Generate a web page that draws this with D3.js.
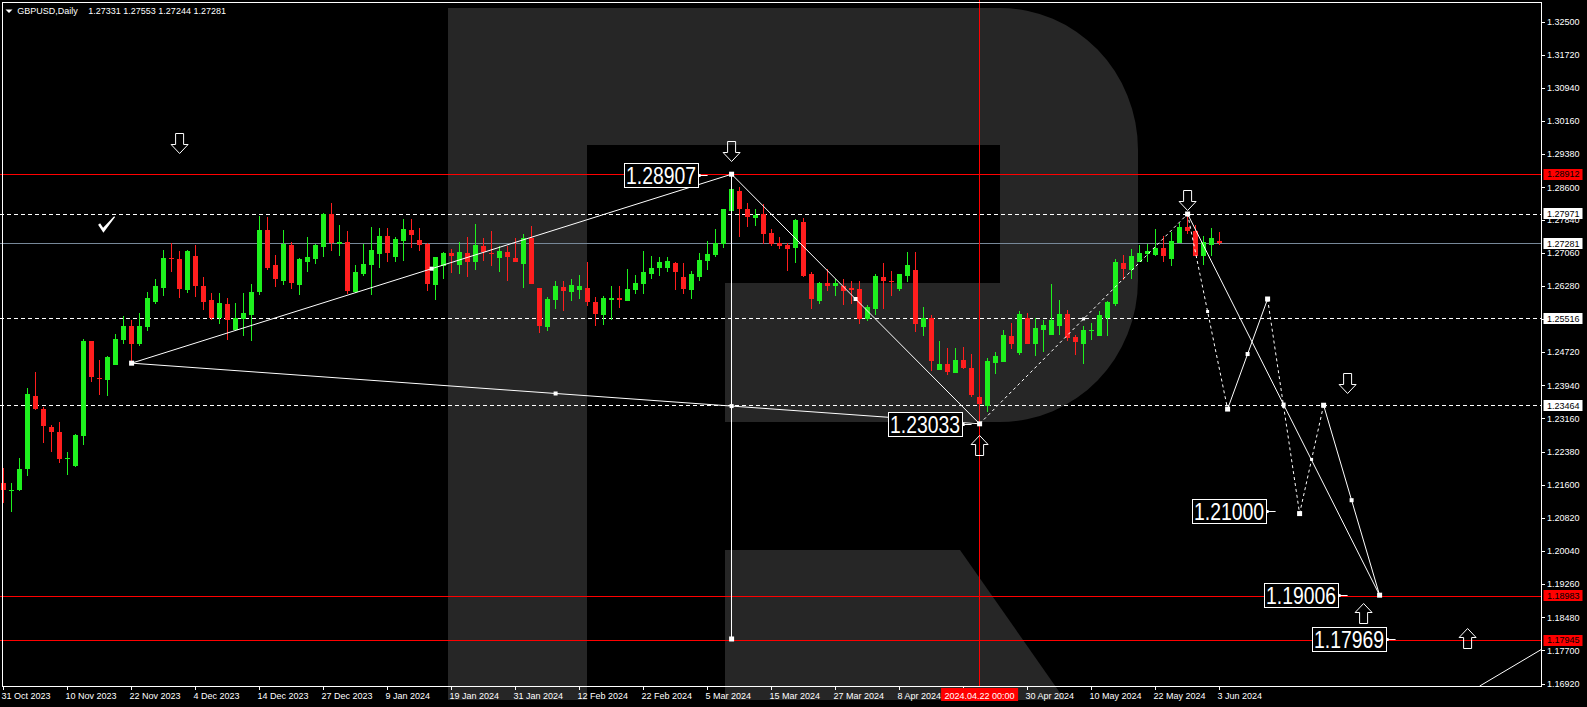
<!DOCTYPE html>
<html><head><meta charset="utf-8">
<script src="https://cdn.jsdelivr.net/npm/d3@7/dist/d3.min.js"></script>
<style>
html,body{margin:0;padding:0;background:#000;overflow:hidden;}
svg{display:block;}
</style></head><body>
<svg id="chart" width="1587" height="707"></svg>
<script>
// ---------------- DATA ----------------
const symbolTitle = "GBPUSD,Daily";
const lastOHLC = ["1.27331","1.27553","1.27244","1.27281"];

const opens = [
1.2164,1.2147,1.2147,1.2197,1.2369,1.2338,1.2296,1.2285,1.2220,1.2203,
1.2274,1.2497,1.2411,1.2407,1.2442,1.2501,1.2534,1.2490,1.2530,1.2591,
1.2624,1.2694,1.2690,1.2619,1.2699,1.2628,1.2594,1.2553,1.2586,1.2523,
1.2550,1.2560,1.2613,1.2760,1.2678,1.2640,1.2725,1.2631,1.2685,1.2690,
1.2719,1.2796,1.2726,1.2732,1.2614,1.2657,1.2678,1.2704,1.2746,1.2697,
1.2734,1.2760,1.2736,1.2726,1.2630,1.2675,1.2705,1.2678,1.2705,1.2683,
1.2721,1.2705,1.2694,1.2707,1.2694,1.2679,1.2740,1.2622,1.2532,1.2595,
1.2625,1.2614,1.2619,1.2624,1.2589,1.2560,1.2595,1.2599,1.2593,1.2619,
1.2632,1.2656,1.2669,1.2671,1.2682,1.2649,1.2619,1.2648,1.2687,1.2700,
1.2726,1.2804,1.2852,1.2810,1.2788,1.2797,1.2752,1.2729,1.2724,1.2717,
1.2778,1.2656,1.2593,1.2635,1.2627,1.2627,1.2622,1.2621,1.2549,1.2574,
1.2649,1.2640,1.2621,1.2651,1.2666,1.2531,1.2552,1.2431,1.2444,1.2423,
1.2454,1.2434,1.2366,1.2346,1.2447,1.2448,1.2509,1.2470,1.2552,1.2490,
1.2525,1.2512,1.2533,1.2562,1.2508,1.2491,1.2521,1.2511,1.2552,1.2586,
1.2682,1.2666,1.2685,1.2703,1.2701,1.2717,1.2690,1.2728,1.2766,1.2758,
1.2698,1.2723,1.27331];
const highs = [
1.2199,1.2164,1.2223,1.2388,1.2426,1.2344,1.2300,1.2308,1.2238,1.2280,
1.2503,1.2499,1.2454,1.2464,1.2515,1.2558,1.2548,1.2564,1.2614,1.2643,
1.2713,1.2729,1.2709,1.2713,1.2723,1.2649,1.2611,1.2610,1.2600,1.2588,
1.2611,1.2633,1.2792,1.2789,1.2701,1.2760,1.2732,1.2694,1.2742,1.2727,
1.2800,1.2824,1.2770,1.2758,1.2676,1.2727,1.2767,1.2765,1.2763,1.2744,
1.2785,1.2785,1.2764,1.2728,1.2696,1.2708,1.2715,1.2730,1.2744,1.2773,
1.2740,1.2758,1.2722,1.2722,1.2740,1.2750,1.2769,1.2622,1.2601,1.2640,
1.2640,1.2644,1.2653,1.2683,1.2601,1.2603,1.2627,1.2627,1.2667,1.2653,
1.2711,1.2699,1.2695,1.2695,1.2683,1.2681,1.2663,1.2705,1.2733,1.2762,
1.2810,1.28907,1.2860,1.2824,1.2810,1.2820,1.2762,1.2744,1.2729,1.2785,
1.2788,1.2660,1.2637,1.2668,1.2644,1.2644,1.2640,1.2640,1.2582,1.2656,
1.2682,1.2664,1.2656,1.2707,1.2707,1.2578,1.2560,1.2499,1.2481,1.2481,
1.2483,1.2468,1.2368,1.2458,1.2473,1.2525,1.2541,1.2568,1.2564,1.2553,
1.2548,1.2633,1.2595,1.2570,1.2512,1.2533,1.2541,1.2568,1.2593,1.2690,
1.2701,1.2714,1.2725,1.2727,1.2761,1.2745,1.2754,1.2776,1.27971,1.2770,
1.2745,1.2764,1.27553];
const lows = [
1.2118,1.2095,1.2144,1.2181,1.2335,1.2259,1.2238,1.2211,1.2183,1.2201,
1.2254,1.2401,1.2372,1.2369,1.2442,1.2492,1.2446,1.2486,1.2521,1.2586,
1.2603,1.2660,1.2599,1.2610,1.2602,1.2572,1.2548,1.2539,1.2500,1.2522,
1.2511,1.2497,1.2607,1.2665,1.2625,1.2629,1.2621,1.2607,1.2661,1.2680,
1.2695,1.2709,1.2698,1.2608,1.2612,1.2652,1.2607,1.2669,1.2685,1.2683,
1.2687,1.2718,1.2711,1.2616,1.2595,1.2644,1.2658,1.2656,1.2648,1.2666,
1.2687,1.2674,1.2660,1.2640,1.2683,1.2624,1.2632,1.2518,1.2522,1.2573,
1.2569,1.2593,1.2598,1.2581,1.2534,1.2536,1.2548,1.2577,1.2593,1.2609,
1.2609,1.2645,1.2652,1.2660,1.2619,1.2609,1.2597,1.2640,1.2666,1.2697,
1.2718,1.2801,1.2744,1.2766,1.2768,1.2726,1.2722,1.2715,1.2663,1.2682,
1.2648,1.2574,1.2585,1.2617,1.2605,1.2583,1.2585,1.2538,1.2546,1.2560,
1.2574,1.2605,1.2617,1.2638,1.2519,1.2511,1.2428,1.2431,1.2417,1.2423,
1.2432,1.2366,1.23033,1.2330,1.2421,1.2448,1.2479,1.2465,1.2490,1.2464,
1.2472,1.2512,1.2512,1.2499,1.2465,1.2444,1.2501,1.2509,1.2509,1.2580,
1.2641,1.2643,1.2684,1.2685,1.2699,1.2684,1.2674,1.2728,1.2750,1.2698,
1.2677,1.2699,1.27244];
const closes = [
1.2147,1.2148,1.2197,1.2374,1.2338,1.2297,1.2283,1.2220,1.2223,1.2277,
1.2497,1.2413,1.2409,1.2460,1.2503,1.2534,1.2492,1.2534,1.2600,1.2628,
1.2694,1.2690,1.2621,1.2709,1.2628,1.2591,1.2553,1.2588,1.2547,1.2553,
1.2563,1.2614,1.2760,1.2669,1.2643,1.2727,1.2634,1.2690,1.2697,1.2723,
1.2796,1.2728,1.2732,1.2615,1.2661,1.2680,1.2713,1.2746,1.2706,1.2739,
1.2762,1.2747,1.2724,1.2632,1.2695,1.2705,1.2699,1.2707,1.2685,1.2724,
1.2707,1.2702,1.2711,1.2697,1.2685,1.2740,1.2632,1.2534,1.2597,1.2628,
1.2616,1.2630,1.2627,1.2589,1.2561,1.2599,1.2599,1.2594,1.2620,1.2634,
1.2660,1.2671,1.2683,1.2686,1.2660,1.2620,1.2656,1.2689,1.2703,1.2729,
1.2809,1.2856,1.2809,1.2789,1.2795,1.2750,1.2726,1.2721,1.2714,1.2783,
1.2652,1.2596,1.2635,1.2627,1.2635,1.2617,1.2618,1.2549,1.2578,1.2652,
1.2640,1.2637,1.2655,1.2677,1.2538,1.2552,1.2450,1.2444,1.2425,1.2454,
1.2434,1.2370,1.2350,1.2450,1.2462,1.2512,1.2491,1.2562,1.2490,1.2529,
1.2536,1.2548,1.2562,1.2506,1.2495,1.2524,1.2524,1.2560,1.2591,1.2685,
1.2668,1.2698,1.2706,1.2709,1.2717,1.2698,1.2734,1.2766,1.2758,1.2699,
1.2731,1.2740,1.27281];

// x-axis date labels and their bar index
const dateLabels = ["31 Oct 2023","10 Nov 2023","22 Nov 2023","4 Dec 2023","14 Dec 2023","27 Dec 2023",
  "9 Jan 2024","19 Jan 2024","31 Jan 2024","12 Feb 2024","22 Feb 2024","5 Mar 2024","15 Mar 2024",
  "27 Mar 2024","8 Apr 2024","18 Apr 2024","30 Apr 2024","10 May 2024","22 May 2024","3 Jun 2024"];
const dateLabelBars = [0,8,16,24,32,40,48,56,64,72,80,88,96,104,112,120,128,136,144,152];

// y-axis tick labels
const priceTicks = ["1.32500","1.31720","1.30940","1.30160","1.29380","1.28600","1.27840","1.27060",
  "1.26280","1.25500","1.24720","1.23940","1.23160","1.22380","1.21600","1.20820","1.20040",
  "1.19260","1.18480","1.17700","1.16920"];

// horizontal levels
const redLevels = [1.28912, 1.18983, 1.17945];
const dashedLevels = [1.27971, 1.25516, 1.23464];
const bidPrice = 1.27281;

// axis price tags
const axisTagPrices = [1.28912, 1.27971, 1.27281, 1.25516, 1.23464, 1.18983, 1.17945];
const axisTagKinds  = ["red","white","white","white","white","red","red"];

// crosshair
const crossBar = 122;
const crossLabel = "2024.04.22 00:00";

// zigzag / forecast vertices (bar index, price)
const zzBars   = [16, 91, 122, 148, 153, 158, 162, 165, 172];
const zzPrices = [1.2446, 1.28907, 1.23033, 1.27971, 1.2338, 1.2597, 1.2092, 1.2347, 1.1900];
const zzSegments = [[0,1],[0,2],[1,2],[2,3],[3,4],[4,5],[5,6],[6,7],[7,8],[3,8]];
const zzDashed   = [false,false,false,true,true,false,true,true,false,false];
// vertical projection from the top
const projBar = 91, projFrom = 1.28907, projTo = 1.17969;
// extra trend line bottom right
const trendBars = [184.5, 192.2], trendPrices = [1.1686, 1.1772];

// price tags on chart
const tagPrices = [1.28907, 1.23033, 1.21000, 1.19006, 1.17969];
const tagBars   = [88, 121, 159, 168, 174];

// arrows
const downArrowBars   = [22, 91, 148, 168];
const downArrowPrices = [1.2988, 1.2969, 1.2854, 1.2423];
const upArrowBars     = [122, 170, 183];
const upArrowPrices   = [1.2277, 1.1881, 1.1822];
const checkBar = 13, checkPrice = 1.2792;

// ---------------- DRAW ----------------
const W = 1587, H = 707, PR = 1541, PB = 686;
const FONT = '"Liberation Sans", Arial, sans-serif';
const GREEN = "#1ef01e", RED = "#ff1e1e";
const x = d3.scaleLinear().domain([0, 192]).range([3.6, 3.6 + 8 * 192]);
const y = d3.scaleLinear().domain([1.17945, 1.28912]).range([640, 174]);
const svg = d3.select("#chart");

svg.append("rect").attr("width", W).attr("height", H).attr("fill", "#000");

// watermark logo
const wm = svg.append("g").attr("fill", "#262626");
wm.append("rect").attr("x", 448).attr("y", 8).attr("width", 139).attr("height", 692);
wm.append("path").attr("d", "M587,8H1000A138,142 0 0 1 1138,150V280A138,142 0 0 1 1000,422H725V283H1000V145H587Z");
wm.append("path").attr("d", "M725,550H960L1065,700H725Z");

svg.append("clipPath").attr("id", "plot").append("rect")
  .attr("x", 0).attr("y", 0).attr("width", PR).attr("height", PB);
const g = svg.append("g").attr("clip-path", "url(#plot)");
const py = p => Math.round(y(p)) + 0.5;

// level lines
redLevels.forEach(p => g.append("line").attr("x1", 0).attr("x2", PR).attr("y1", py(p)).attr("y2", py(p))
  .attr("stroke", "#ff0000").attr("stroke-width", 1));
dashedLevels.forEach(p => g.append("line").attr("x1", 0).attr("x2", PR).attr("y1", py(p)).attr("y2", py(p))
  .attr("stroke", "#fff").attr("stroke-width", 1).attr("stroke-dasharray", "4,3"));
g.append("line").attr("x1", 0).attr("x2", PR).attr("y1", py(bidPrice)).attr("y2", py(bidPrice))
  .attr("stroke", "#778899").attr("stroke-width", 1);

// crosshair vertical
const cx0 = Math.floor(x(crossBar)) + 0.5;
g.append("line").attr("x1", cx0).attr("x2", cx0).attr("y1", 0).attr("y2", PB)
  .attr("stroke", "#ff0000").attr("stroke-width", 1);

// candles
const cg = g.append("g").attr("shape-rendering", "crispEdges");
opens.forEach((o, i) => {
  const c = closes[i], hi = highs[i], lo = lows[i];
  const col = c >= o ? GREEN : RED;
  const xc = Math.floor(x(i));
  cg.append("line").attr("x1", xc + 0.5).attr("x2", xc + 0.5)
    .attr("y1", y(hi)).attr("y2", y(lo)).attr("stroke", col).attr("stroke-width", 1);
  const top = y(Math.max(o, c)), bot = y(Math.min(o, c));
  cg.append("rect").attr("x", xc - 2).attr("width", 5)
    .attr("y", top).attr("height", Math.max(1, bot - top)).attr("fill", col);
});

// zigzag lines
zzSegments.forEach((s, k) => {
  g.append("line")
    .attr("x1", x(zzBars[s[0]])).attr("y1", y(zzPrices[s[0]]))
    .attr("x2", x(zzBars[s[1]])).attr("y2", y(zzPrices[s[1]]))
    .attr("stroke", "#fff").attr("stroke-width", 1)
    .attr("stroke-dasharray", zzDashed[k] ? "3,3" : null);
});
g.append("line").attr("x1", Math.floor(x(projBar)) + 0.5).attr("x2", Math.floor(x(projBar)) + 0.5)
  .attr("y1", y(projFrom)).attr("y2", y(projTo)).attr("stroke", "#fff").attr("stroke-width", 1);
g.append("line").attr("x1", x(trendBars[0])).attr("y1", y(trendPrices[0]))
  .attr("x2", x(trendBars[1])).attr("y2", y(trendPrices[1])).attr("stroke", "#fff").attr("stroke-width", 1);

// markers
function marker(bx, p, s) {
  g.append("rect").attr("x", x(bx) - s / 2).attr("y", y(p) - s / 2)
    .attr("width", s).attr("height", s).attr("fill", "#fff");
}
zzSegments.forEach((s, k) => {
  const mb = (zzBars[s[0]] + zzBars[s[1]]) / 2, mp = (zzPrices[s[0]] + zzPrices[s[1]]) / 2;
  marker(mb, mp, zzDashed[k] ? 3 : 4);
});
// intersection of A-C line with vertical projection
{
  const a = 0, c = 2;
  const t = (projBar - zzBars[a]) / (zzBars[c] - zzBars[a]);
  marker(projBar, zzPrices[a] + t * (zzPrices[c] - zzPrices[a]), 4);
}
marker(projBar, projTo, 5);
zzBars.forEach((b, i) => marker(b, zzPrices[i], 5));

// on-chart price tags
tagPrices.forEach((p, i) => {
  const ax = x(tagBars[i]);
  const cy = y(p) + 0.5;
  const right = ax - 10, left = right - 74;
  g.append("line").attr("x1", right).attr("x2", ax).attr("y1", Math.round(cy) + 0.5).attr("y2", Math.round(cy) + 0.5)
    .attr("stroke", "#fff").attr("stroke-width", 1);
  g.append("rect").attr("x", right).attr("y", Math.round(cy) - 1).attr("width", 3).attr("height", 3).attr("fill", "#fff");
  g.append("rect").attr("x", Math.round(left) + 0.5).attr("y", Math.round(cy - 12) + 0.5)
    .attr("width", 74).attr("height", 24).attr("fill", "#000").attr("stroke", "#fff").attr("stroke-width", 1);
  g.append("text").attr("x", left + 2.5).attr("y", Math.round(cy - 12) + 21)
    .attr("font-family", FONT).attr("font-size", 23).attr("fill", "#fff")
    .attr("textLength", 70).attr("lengthAdjust", "spacingAndGlyphs")
    .text(p.toFixed(5));
});

// arrows
const ag = g.append("g").attr("fill", "none").attr("stroke", "#fff").attr("stroke-width", 1);
downArrowBars.forEach((b, i) => {
  const cx = x(b), t = Math.round(y(downArrowPrices[i])) + 0.5;
  ag.append("path").attr("d",
    `M${cx - 4},${t}H${cx + 4}V${t + 11}H${cx + 8.5}L${cx},${t + 20}L${cx - 8.5},${t + 11}H${cx - 4}Z`);
});
upArrowBars.forEach((b, i) => {
  const cx = x(b), t = Math.round(y(upArrowPrices[i])) + 0.5;
  ag.append("path").attr("d",
    `M${cx},${t}L${cx + 8.5},${t + 9}H${cx + 4}V${t + 20}H${cx - 4}V${t + 9}H${cx - 8.5}Z`);
});
{
  const cx = x(checkBar) - 1, t = y(checkPrice);
  g.append("path").attr("fill", "#fff").attr("d",
    `M${cx - 8.5},${t + 8.5}L${cx - 6.5},${t + 7}L${cx - 3.5},${t + 11.5}L${cx + 7.5},${t}L${cx + 8.5},${t + 0.8}L${cx - 3.2},${t + 16.7}Z`);
}

// frame
const fr = svg.append("g").attr("stroke", "#fff").attr("stroke-width", 1).attr("shape-rendering", "crispEdges");
fr.append("line").attr("x1", 2.5).attr("x2", 2.5).attr("y1", 2).attr("y2", PB + 0.5);
fr.append("line").attr("x1", 2).attr("x2", PR + 0.5).attr("y1", 2.5).attr("y2", 2.5);
fr.append("line").attr("x1", PR + 0.5).attr("x2", PR + 0.5).attr("y1", 2).attr("y2", PB + 0.5);
fr.append("line").attr("x1", 2).attr("x2", PR + 0.5).attr("y1", PB + 0.5).attr("y2", PB + 0.5);

// y axis ticks and labels
const yAxisG = svg.append("g");
priceTicks.forEach(t => {
  const yy = Math.round(y(+t)) + 0.5;
  yAxisG.append("line").attr("x1", PR + 1).attr("x2", PR + 4).attr("y1", yy).attr("y2", yy)
    .attr("stroke", "#fff").attr("shape-rendering", "crispEdges");
  yAxisG.append("text").attr("x", 1547).attr("y", y(+t) + 3.3)
    .attr("font-family", FONT).attr("font-size", 9).attr("fill", "#fff").text(t);
});
axisTagPrices.forEach((p, i) => {
  const yy = y(p);
  yAxisG.append("rect").attr("x", 1543.5).attr("y", Math.round(yy - 5.5)).attr("width", 39).attr("height", 11)
    .attr("fill", axisTagKinds[i] === "red" ? "#ff0000" : "#fff");
  yAxisG.append("text").attr("x", 1547).attr("y", yy + 3.3)
    .attr("font-family", FONT).attr("font-size", 9).attr("fill", "#000").text(p.toFixed(5));
});

// x axis ticks and labels
const xAxisG = svg.append("g");
dateLabels.forEach((d, i) => {
  const xx = Math.floor(x(dateLabelBars[i])) + 0.5;
  xAxisG.append("line").attr("x1", xx).attr("x2", xx).attr("y1", PB).attr("y2", PB + 4)
    .attr("stroke", "#fff").attr("shape-rendering", "crispEdges");
  xAxisG.append("text").attr("x", xx - 2).attr("y", 699.3)
    .attr("font-family", FONT).attr("font-size", 9).attr("fill", "#fff").text(d);
});
{
  const xx = x(crossBar);
  xAxisG.append("rect").attr("x", xx - 38.5).attr("y", 688).attr("width", 77).attr("height", 13).attr("fill", "#ff0000");
  xAxisG.append("text").attr("x", xx).attr("y", 698.8).attr("text-anchor", "middle")
    .attr("font-family", FONT).attr("font-size", 9).attr("fill", "#fff").text(crossLabel);
}

// header
svg.append("path").attr("d", "M5.5,9.5H12.5L9,13Z").attr("fill", "#fff");
svg.append("text").attr("x", 17.3).attr("y", 14).attr("font-family", FONT).attr("font-size", 9)
  .attr("fill", "#fff").text(symbolTitle);
svg.append("text").attr("x", 88.3).attr("y", 14).attr("font-family", FONT).attr("font-size", 9)
  .attr("fill", "#fff").text(lastOHLC.join(" "));
</script>
</body></html>
